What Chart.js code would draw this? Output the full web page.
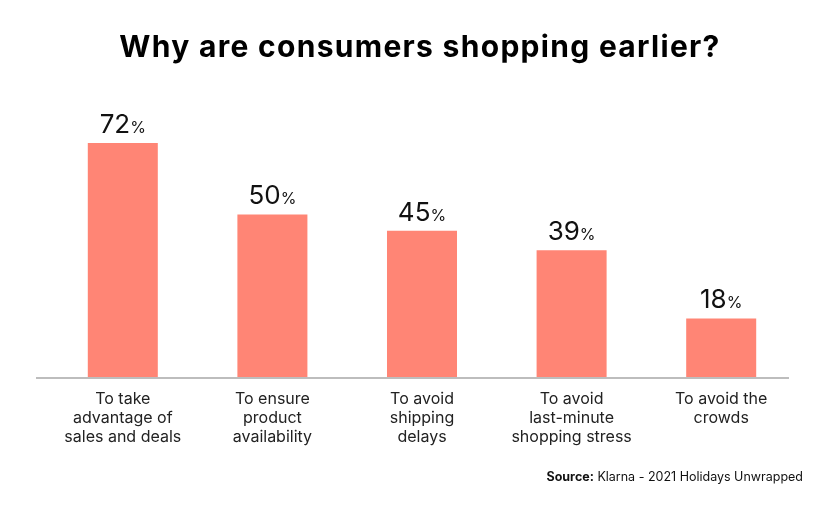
<!DOCTYPE html>
<html>
<head>
<meta charset="utf-8">
<script src="https://cdn.jsdelivr.net/npm/chart.js@4"></script>
<style>
html,body{margin:0;padding:0;background:#fff;}
#wrap{width:840px;height:518px;position:relative;}
</style>
</head>
<body>
<div id="wrap"><canvas id="c" width="840" height="518"></canvas></div>
<script>
const titleText = "Why are consumers shopping earlier?";
const categories = [
  ["To take", "advantage of", "sales and deals"],
  ["To ensure", "product", "availability"],
  ["To avoid", "shipping", "delays"],
  ["To avoid", "last-minute", "shopping stress"],
  ["To avoid the", "crowds"]
];
const values = [72, 50, 45, 39, 18];
const sourceBold = "Source:";
const sourceText = " Klarna - 2021 Holidays Unwrapped";

const FONT = "Inter, 'Open Sans', sans-serif";
const BAR = "#FF8575";

const titlePlugin = {
  id: "bigTitle",
  afterDraw(chart) {
    const ctx = chart.ctx;
    ctx.save();
    ctx.fillStyle = "#000";
    ctx.font = "700 30px " + FONT;
    try { ctx.letterSpacing = "1.3px"; } catch (e) {}
    ctx.textAlign = "center";
    ctx.textBaseline = "middle";
    ctx.fillText(titleText, chart.width / 2, 48);
    ctx.restore();
  }
};

const labelPlugin = {
  id: "valueLabels",
  afterDatasetsDraw(chart) {
    const ctx = chart.ctx;
    const meta = chart.getDatasetMeta(0);
    ctx.save();
    ctx.fillStyle = "#111";
    ctx.textBaseline = "alphabetic";
    meta.data.forEach((bar, i) => {
      const num = String(values[i]);
      ctx.font = "400 26px " + FONT;
      const w1 = ctx.measureText(num).width;
      ctx.font = "400 16px " + FONT;
      const w2 = ctx.measureText("%").width;
      const x0 = bar.x - (w1 + w2) / 2;
      const y = bar.y - 10;
      ctx.font = "400 26px " + FONT;
      ctx.textAlign = "left";
      ctx.fillText(num, x0, y);
      ctx.font = "400 16px " + FONT;
      ctx.fillText("%", x0 + w1, y);
    });
    ctx.restore();
  }
};

const axisPlugin = {
  id: "axisLine",
  afterDatasetsDraw(chart) {
    const {ctx, chartArea} = chart;
    ctx.save();
    ctx.strokeStyle = "#BDBDBD";
    ctx.lineWidth = 2;
    ctx.beginPath();
    ctx.moveTo(chartArea.left - 12, chartArea.bottom + 1);
    ctx.lineTo(chartArea.right - 7, chartArea.bottom + 1);
    ctx.stroke();
    ctx.restore();
  }
};

const sourcePlugin = {
  id: "source",
  afterDraw(chart) {
    const ctx = chart.ctx;
    ctx.save();
    ctx.fillStyle = "#111";
    ctx.textBaseline = "middle";
    ctx.font = "400 12.5px " + FONT;
    const w2 = ctx.measureText(sourceText).width;
    ctx.font = "700 12.5px " + FONT;
    const w1 = ctx.measureText(sourceBold).width;
    const right = 803;
    const x0 = right - w1 - w2;
    ctx.textAlign = "left";
    ctx.fillText(sourceBold, x0, 477);
    ctx.font = "400 12.5px " + FONT;
    ctx.fillText(sourceText, x0 + w1, 477);
    ctx.restore();
  }
};

new Chart(document.getElementById("c"), {
  type: "bar",
  data: {
    labels: categories,
    datasets: [{
      data: values,
      backgroundColor: BAR,
      borderWidth: 0,
      barPercentage: 0.468,
      categoryPercentage: 1
    }]
  },
  options: {
    responsive: false,
    animation: false,
    devicePixelRatio: 1,
    layout: { padding: { left: 48, right: 44, top: 117, bottom: 66 } },
    plugins: {
      legend: { display: false },
      tooltip: { enabled: false },
      title: { display: false }
    },
    scales: {
      x: {
        grid: { display: false },
        border: { display: false },
        ticks: {
          color: "#222",
          font: { family: FONT, size: 16, lineHeight: 1.19 },
          padding: 5,
          maxRotation: 0,
          autoSkip: false
        }
      },
      y: {
        display: false,
        min: 0,
        max: 80
      }
    }
  },
  plugins: [titlePlugin, labelPlugin, axisPlugin, sourcePlugin]
});
</script>
</body>
</html>
